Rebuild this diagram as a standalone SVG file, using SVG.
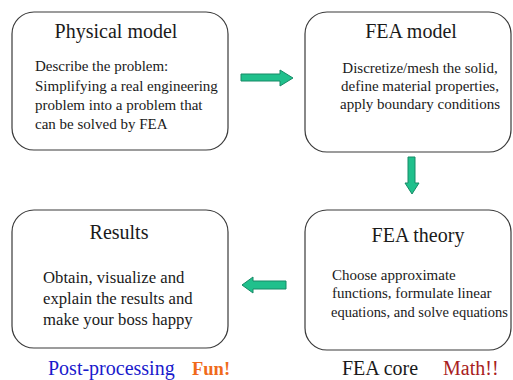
<svg xmlns="http://www.w3.org/2000/svg" width="513" height="380" viewBox="0 0 513 380">
<style>
.box{fill:#fff;stroke:#3a3a3a;stroke-width:1.2}
.t{font-family:"Liberation Serif","Times New Roman",serif;fill:#1a1a1a}
.title{font-size:20px}
.body{font-size:15px}
.arrow{fill:#20c08c;stroke:#178a66;stroke-width:1}
</style>
<rect width="513" height="380" fill="#fff"/>
<g id="physical-model">
<rect class="box" x="12" y="12" width="216" height="138" rx="22"/>
<text class="t title" x="116" y="38" text-anchor="middle">Physical model</text>
<text class="t body" x="35" y="71">Describe the problem:</text>
<text class="t body" x="35" y="91">Simplifying a real engineering</text>
<text class="t body" x="35" y="110">problem into a problem that</text>
<text class="t body" x="35" y="129">can be solved by FEA</text>
</g>
<g id="fea-model">
<rect class="box" x="305" y="12" width="206" height="140" rx="22"/>
<text class="t title" x="411" y="38" text-anchor="middle">FEA model</text>
<text class="t body" x="420" y="73" text-anchor="middle">Discretize/mesh the solid,</text>
<text class="t body" x="420" y="91" text-anchor="middle">define material properties,</text>
<text class="t body" x="420" y="109" text-anchor="middle">apply boundary conditions</text>
</g>
<g id="fea-theory">
<rect class="box" x="305" y="210" width="206" height="140" rx="22"/>
<text class="t title" x="418" y="242" text-anchor="middle">FEA theory</text>
<text class="t body" x="332" y="280">Choose approximate</text>
<text class="t body" x="332" y="298">functions, formulate linear</text>
<text class="t" font-size="14.6" x="331" y="317" textLength="177" lengthAdjust="spacingAndGlyphs">equations, and solve equations</text>
</g>
<g id="results">
<rect class="box" x="12" y="210" width="216" height="138" rx="22"/>
<text class="t title" x="119" y="239" text-anchor="middle">Results</text>
<text class="t" font-size="16.7" x="43" y="283">Obtain, visualize and</text>
<text class="t" font-size="16.7" x="43" y="304">explain the results and</text>
<text class="t" font-size="16.7" x="43" y="325">make your boss happy</text>
</g>
<g id="connectors">
<polygon class="arrow" points="241,74 280,74 280,70 293,78 280,86 280,81 241,81"/>
<polygon class="arrow" points="408,157 415,157 415,183 419,183 412,194 405,183 408,183"/>
<polygon class="arrow" points="286,281 253,281 253,277 242,285 253,293 253,289 286,289"/>
</g>
<g id="labels">
<text class="t" font-size="20" x="48" y="375" style="fill:#1a1acc">Post-processing</text>
<text class="t" font-size="18.5" font-weight="bold" x="192" y="375" style="fill:#f06a1a">Fun!</text>
<text class="t" font-size="20" x="342" y="375">FEA core</text>
<text class="t" font-size="20" x="443" y="375" style="fill:#a82020">Math!!</text>
</g>
</svg>
